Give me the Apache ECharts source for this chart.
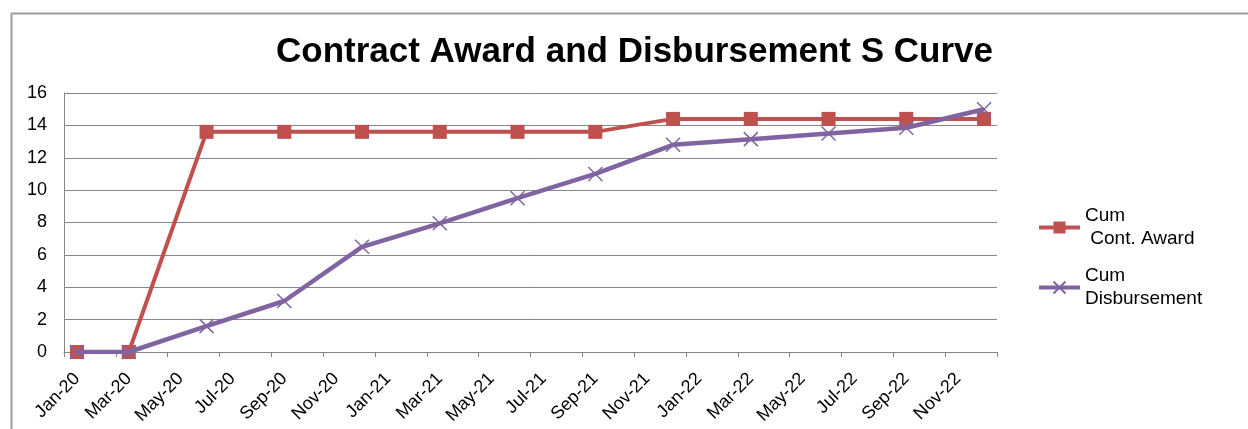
<!DOCTYPE html>
<html>
<head>
<meta charset="utf-8">
<script src="https://cdn.jsdelivr.net/npm/echarts@6/dist/echarts.min.js"></script>
<style>
html,body{margin:0;padding:0;background:#fff;}
#chart{width:1248px;height:429px;}
</style>
</head>
<body>
<div id="chart"></div>
<script>
// Month categories of the date axis (one per month)
const months = [
  "Jan-20","Feb-20","Mar-20","Apr-20","May-20","Jun-20","Jul-20","Aug-20","Sep-20","Oct-20","Nov-20","Dec-20",
  "Jan-21","Feb-21","Mar-21","Apr-21","May-21","Jun-21","Jul-21","Aug-21","Sep-21","Oct-21","Nov-21","Dec-21",
  "Jan-22","Feb-22","Mar-22","Apr-22","May-22","Jun-22","Jul-22","Aug-22","Sep-22","Oct-22","Nov-22","Dec-22"
];
// Dates at which the data were recorded
const dates = ["Jan-20","Mar-20","Jun-20","Sep-20","Dec-20","Mar-21","Jun-21","Sep-21","Dec-21","Mar-22","Jun-22","Sep-22","Dec-22"];
const cumAward = [0, 0, 13.6, 13.6, 13.6, 13.6, 13.6, 13.6, 14.4, 14.4, 14.4, 14.4, 14.4];
const cumDisb  = [0, 0, 1.6, 3.15, 6.5, 7.95, 9.5, 11.0, 12.8, 13.15, 13.5, 13.85, 15.0];
const seriesNames = ["Cum\n Cont. Award", "Cum\nDisbursement"];
const titleText = "Contract Award and Disbursement S Curve";

const pair = (vals) => dates.map((d, i) => [d, vals[i]]);

const chart = echarts.init(document.getElementById('chart'), null, {renderer: 'canvas'});
const FONT = '"Liberation Sans", Arial, sans-serif';
chart.setOption({
  animation: false,
  backgroundColor: '#ffffff',
  title: {
    text: titleText,
    left: 276,
    top: 35,
    padding: 0,
    textStyle: {fontFamily: FONT, fontSize: 35, fontWeight: 'bold', color: '#000'}
  },
  graphic: [
    {type: 'line', shape: {x1: 11, y1: 13.5, x2: 1248, y2: 13.5}, style: {stroke: '#9d9d9d', lineWidth: 2}, silent: true},
    {type: 'line', shape: {x1: 11.5, y1: 13, x2: 11.5, y2: 429}, style: {stroke: '#9d9d9d', lineWidth: 2}, silent: true}
  ],
  legend: {
    orient: 'vertical',
    left: 1037,
    top: 193,
    padding: 0,
    itemGap: -9,
    itemWidth: 41,
    itemHeight: 15,
    data: seriesNames,
    lineStyle: {width: 4},
    textStyle: {fontFamily: FONT, fontSize: 19, lineHeight: 23, color: '#000', padding: [23, 0, 0, 0]}
  },
  grid: {left: 64, right: 251, top: 93, bottom: 77, containLabel: false},
  xAxis: {
    type: 'category',
    data: months,
    boundaryGap: true,
    axisLine: {show: true, lineStyle: {color: '#868686', width: 1}},
    axisTick: {show: true, interval: 1, alignWithLabel: false, length: 5, lineStyle: {color: '#868686'}},
    axisLabel: {interval: 1, rotate: 45, margin: 24, fontFamily: FONT, fontSize: 18, color: '#000'},
    splitLine: {show: false}
  },
  yAxis: {
    type: 'value',
    min: 0, max: 16, interval: 2,
    axisLine: {show: true, lineStyle: {color: '#868686', width: 1}},
    axisTick: {show: false},
    axisLabel: {margin: 17, fontFamily: FONT, fontSize: 18, color: '#000'},
    splitLine: {show: true, lineStyle: {color: '#868686', width: 1}}
  },
  series: [
    {
      name: seriesNames[0],
      type: 'line',
      data: pair(cumAward),
      symbol: 'rect',
      symbolSize: 14,
      lineStyle: {color: '#C0504D', width: 4},
      itemStyle: {color: '#C0504D'},
      z: 2
    },
    {
      name: seriesNames[1],
      type: 'line',
      data: pair(cumDisb),
      symbol: 'path://M0,0L10,10M10,0L0,10',
      symbolSize: 14,
      lineStyle: {color: '#8064A2', width: 4.5},
      itemStyle: {color: '#8064A2', borderColor: '#8064A2', borderWidth: 1.5},
      z: 3
    }
  ]
});
</script>
</body>
</html>
